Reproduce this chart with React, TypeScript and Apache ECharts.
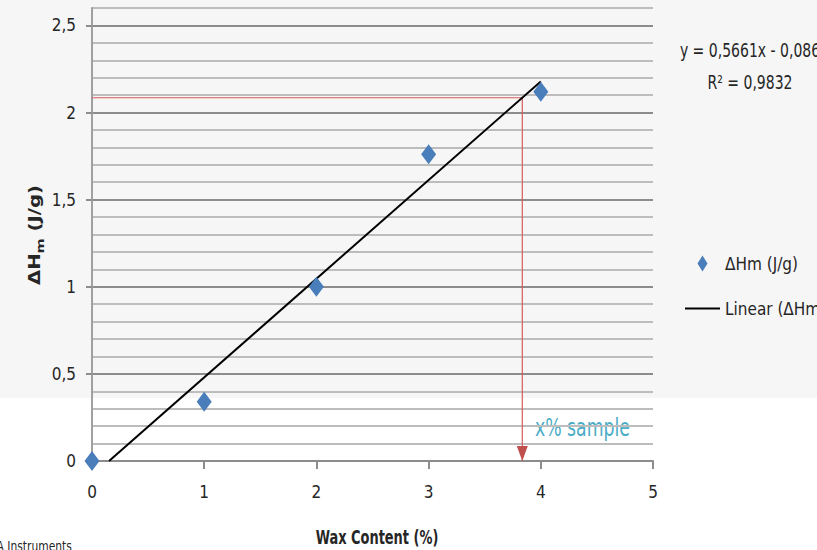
import React, { useEffect, useRef } from "react";
import * as echarts from "echarts";

// Calibration: wax content (%) vs. melting enthalpy ΔHm (J/g)
const waxContent = [0, 1, 2, 3, 4];
const enthalpy = [0, 0.34, 1.0, 1.76, 2.12];

// Linear trendline coefficients (as printed on the chart)
const slope = 0.5661;
const intercept = -0.086;
const rSquared = 0.9832;

// Measured sample enthalpy, read back to a wax content through the trendline
const sampleEnthalpy = 2.085;

const xTickValues = [0, 1, 2, 3, 4, 5];
const yMajorValues = [0, 0.5, 1, 1.5, 2, 2.5];

const FONT = "'DejaVu Sans Condensed', 'DejaVu Sans', sans-serif";
const TEXT = "#262626";

const fmt = (v: number) => String(v).replace(".", ",");

export default function App() {
  const ref = useRef<HTMLDivElement>(null);

  useEffect(() => {
    document.body.style.margin = "0";
    if (!ref.current) return;
    const chart = echarts.init(ref.current, undefined, { renderer: "svg" });

    const trendStart = -intercept / slope;
    const trendEnd = waxContent[waxContent.length - 1];
    const trendData = [trendStart, trendEnd].map((x) => [x, slope * x + intercept]);
    const sampleWax = (sampleEnthalpy - intercept) / slope;

    const seriesName = "ΔHm (J/g)";
    const trendName = "Linear (ΔHm (J/g))";

    chart.setOption({
      animation: false,
      backgroundColor: "#ffffff",
      textStyle: { fontFamily: FONT },
      graphic: [
        {
          type: "rect",
          z: -10,
          silent: true,
          shape: { x: 0, y: 0, width: 817, height: 398 },
          style: { fill: "#f6f6f6" },
        },
        // trendline equation box
        {
          type: "text",
          x: 750,
          y: 66,
          scaleX: 0.82,
          style: {
            text: `y = ${fmt(slope)}x - ${fmt(-intercept)}\nR² = ${fmt(rSquared)}`,
            fontFamily: FONT,
            fontSize: 19,
            lineHeight: 32,
            fill: TEXT,
            align: "center",
            verticalAlign: "middle",
          },
        },
        {
          type: "text",
          x: 535,
          y: 428,
          scaleX: 0.8,
          style: {
            text: "x% sample",
            fontFamily: FONT,
            fontSize: 24,
            fill: "#4bacc6",
            verticalAlign: "middle",
          },
        },
        {
          type: "text",
          x: -9,
          y: 553,
          scaleX: 0.85,
          style: {
            text: "TA Instruments",
            fontFamily: FONT,
            fontSize: 14,
            fill: TEXT,
            verticalAlign: "bottom",
          },
        },
        // axis titles
        {
          type: "text",
          x: 377,
          y: 537,
          scaleX: 0.72,
          style: {
            text: "Wax Content (%)",
            fontFamily: FONT,
            fontSize: 20,
            fontWeight: "bold",
            fill: TEXT,
            align: "center",
            verticalAlign: "middle",
          },
        },
        {
          type: "text",
          x: 35,
          y: 235,
          rotation: Math.PI / 2,
          scaleX: 1.15,
          scaleY: 0.8,
          style: {
            text: "{a|ΔH}{s|m}{a| (J/g)}",
            align: "center",
            verticalAlign: "middle",
            rich: {
              a: { fontFamily: FONT, fontSize: 19, fontWeight: "bold", fill: TEXT, lineHeight: 26 },
              s: { fontFamily: FONT, fontSize: 14, fontWeight: "bold", fill: TEXT, lineHeight: 12, verticalAlign: "bottom" },
            },
          },
        },
      ],
      grid: { left: 92, right: 164, top: 8, bottom: 89, containLabel: false },
      legend: {
        orient: "vertical",
        left: 685,
        top: 255,
        padding: 0,
        itemWidth: 35,
        itemHeight: 16,
        itemGap: 28,
        textStyle: { fontFamily: FONT, fontSize: 17, color: TEXT },
        data: [
          { name: seriesName, icon: "path://M5,0 L10,8 L5,16 L0,8 Z" },
          { name: trendName, icon: "path://M0,0 L35,0 L35,2 L0,2 Z" },
        ],
      },
      xAxis: {
        type: "value",
        min: 0,
        max: 5,
        interval: 1,
        axisLine: { show: true, lineStyle: { color: "#8c8c8c", width: 2 } },
        axisTick: { show: true, length: 8, lineStyle: { color: "#8c8c8c", width: 2 } },
        axisLabel: {
          customValues: xTickValues,
          margin: 22,
          fontSize: 17,
          color: TEXT,
          fontFamily: FONT,
          formatter: (v: number) => fmt(v),
        },
        splitLine: { show: false },
      },
      yAxis: [
        {
          type: "value",
          min: 0,
          max: 2.6,
          interval: 0.5,
          z: 3,
          axisLine: { show: true, lineStyle: { color: "#a0a0a0", width: 2 } },
          axisTick: {
            show: true,
            length: 6,
            customValues: yMajorValues,
            lineStyle: { color: "#8c8c8c", width: 2 },
          },
          axisLabel: {
            customValues: yMajorValues,
            margin: 16,
            fontSize: 17,
            color: TEXT,
            fontFamily: FONT,
            formatter: (v: number) => fmt(v),
          },
          splitLine: { show: false },
        },
        {
          // gridlines every 0.1, darker at each 0.5
          type: "value",
          min: 0,
          max: 2.6,
          interval: 0.1,
          z: 1,
          position: "left",
          axisLine: { show: false },
          axisTick: { show: false },
          axisLabel: { show: false },
          splitLine: {
            show: true,
            lineStyle: {
              color: ["#8c8c8c", "#bdbdbd", "#bdbdbd", "#bdbdbd", "#bdbdbd"],
              width: 2,
            },
          },
        },
      ],
      series: [
        {
          name: "sample",
          type: "line",
          data: [
            [0, sampleEnthalpy],
            [sampleWax, sampleEnthalpy],
            [sampleWax, 0],
          ],
          symbol: "none",
          lineStyle: { color: "#d45a5d", width: 1.2 },
          silent: true,
          z: 3,
        },
        {
          name: "sample arrow",
          type: "scatter",
          data: [[sampleWax, 0]],
          symbol: "triangle",
          symbolSize: [11, 15],
          symbolRotate: 180,
          symbolOffset: [0, -7.5],
          itemStyle: { color: "#c0504d", opacity: 1 },
          clip: false,
          silent: true,
          z: 4,
        },
        {
          name: trendName,
          type: "line",
          data: trendData,
          symbol: "none",
          lineStyle: { color: "#000000", width: 2 },
          itemStyle: { color: "#000000" },
          z: 5,
        },
        {
          name: seriesName,
          type: "scatter",
          data: waxContent.map((x, i) => [x, enthalpy[i]]),
          symbol: "diamond",
          symbolSize: [15, 20],
          itemStyle: { color: "#4a7ebb", opacity: 1 },
          clip: false,
          z: 6,
        },
      ],
    });

    return () => chart.dispose();
  }, []);

  return <div ref={ref} style={{ width: 817, height: 550 }} />;
}
